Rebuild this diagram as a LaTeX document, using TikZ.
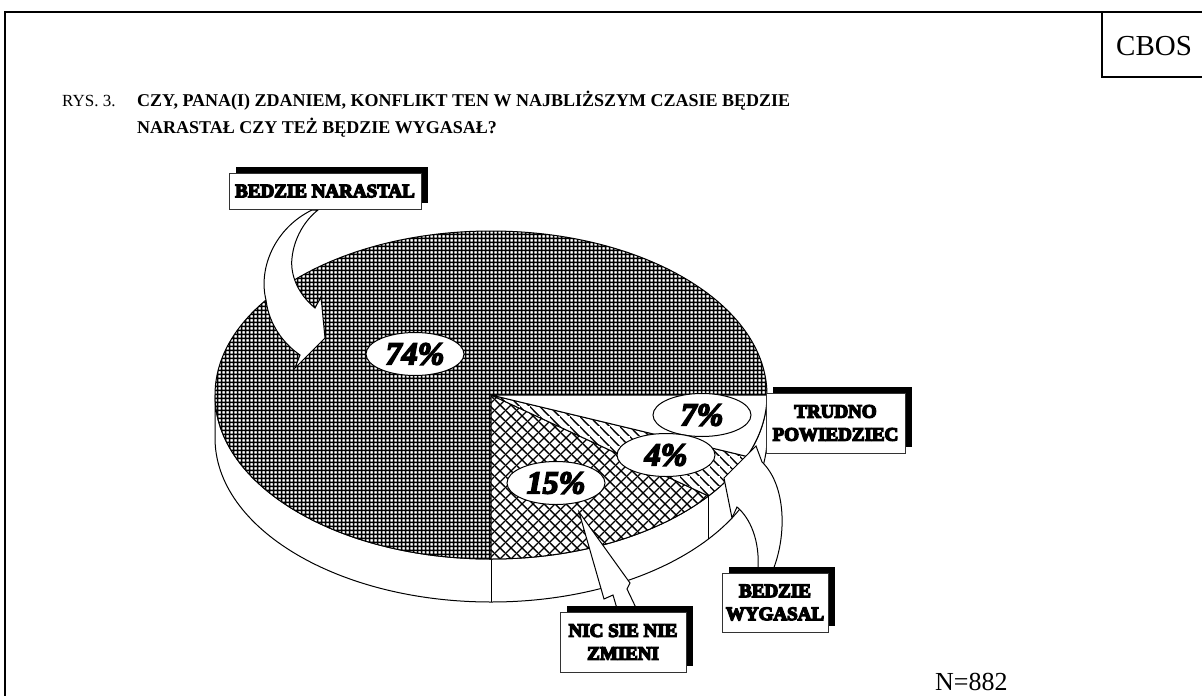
\documentclass[tikz,border=0pt]{standalone}
\usepackage{fontspec}
\setmainfont{Liberation Serif}
\newfontfamily\heavyfont{Liberation Serif Bold}[FakeBold=7]
\newfontfamily\heavyit{Liberation Serif Bold Italic}[FakeBold=5]
\usetikzlibrary{patterns.meta,shapes.geometric,shadows}
\tikzdeclarepattern{
  name=finegrid, type=uncolored,
  bounding box={(0pt,0pt) and (4pt,4pt)}, tile size={(4pt,4pt)},
  code={\draw[line width=1.7pt] (-1pt,2pt) -- (5pt,2pt) (2pt,-1pt) -- (2pt,5pt);}
}
\tikzdeclarepattern{
  name=xhatch, type=uncolored,
  bounding box={(0pt,0pt) and (11pt,11pt)}, tile size={(11pt,11pt)},
  code={\draw[line width=1.5pt] (-1pt,-1pt) -- (12pt,12pt) (-1pt,12pt) -- (12pt,-1pt);}
}
\tikzdeclarepattern{
  name=dhatch, type=uncolored,
  bounding box={(0pt,0pt) and (10pt,10pt)}, tile size={(10pt,10pt)},
  code={\draw[line width=1.4pt] (-1pt,11pt) -- (11pt,-1pt);}
}
\newcommand\pcfont{\heavyit\fontsize{32}{32}\selectfont}
\newcommand\lbfont{\heavyfont\fontsize{19}{23}\selectfont}
\tikzset{
  pieline/.style={draw=black, line width=1pt, line join=round},
  arrowshape/.style={fill=white, draw=black, line width=1pt, line join=miter},
  pct/.style={ellipse, draw=black, fill=white, line width=1pt, minimum width=98pt,
    minimum height=43pt, inner sep=0pt, font=\pcfont},
  lbox/.style={draw=black!80, fill=white, line width=0.7pt, inner sep=0pt, align=center,
    font=\lbfont, drop shadow={shadow xshift=7pt, shadow yshift=6pt, fill=black, opacity=1}},
  frameline/.style={line width=2pt},
  plain/.style={inner sep=0pt, anchor=base west},
}
\begin{document}
\begin{tikzpicture}[x=1pt,y=-1pt]
\useasboundingbox (0,0) rectangle (1202,696);
% frame
\draw[frameline] (5,696) -- (5,12) -- (1202,12);
\draw[frameline] (1102,12) -- (1102,77) -- (1202,77);
\node[plain, font=\fontsize{29}{29}\selectfont] (cbos) at (1116,55) {CBOS};
% title
\node[plain, font=\fontsize{17}{17}\selectfont] (rys) at (62,106) {RYS. 3.};
\node[plain, font=\bfseries\fontsize{18}{18}\selectfont] (t1) at (137,106) {CZY, PANA(I) ZDANIEM, KONFLIKT TEN W NAJBLIŻSZYM CZASIE BĘDZIE};
\node[plain, font=\bfseries\fontsize{18}{18}\selectfont] (t2) at (137,133) {NARASTAŁ CZY TEŻ BĘDZIE WYGASAŁ?};
% pie
\coordinate (C) at (491,395);
\draw[pieline, fill=white] (767,395) -- (767,438) arc[start angle=0, end angle=180, x radius=276, y radius=164]
  -- (215,395) arc[start angle=180, end angle=0, x radius=276, y radius=164] -- cycle;
\draw[pieline] (C) ++(90:276 and 164) -- ++(0,43);
\draw[pieline] (C) ++(38:276 and 164) -- ++(0,43);
\draw[pieline] (C) ++(22:276 and 164) -- ++(0,43);
\draw[pieline, preaction={fill=white}, pattern=finegrid, pattern color=black]
  (C) -- ++(90:276 and 164) arc[start angle=90, end angle=360, x radius=276, y radius=164] -- cycle;
\draw[pieline, preaction={fill=white}, pattern=xhatch, pattern color=black]
  (C) -- ++(38:276 and 164) arc[start angle=38, end angle=90, x radius=276, y radius=164] -- cycle;
\draw[pieline, preaction={fill=white}, pattern=dhatch, pattern color=black]
  (C) -- ++(22:276 and 164) arc[start angle=22, end angle=38, x radius=276, y radius=164] -- cycle;
\draw[pieline, fill=white]
  (C) -- ++(0:276 and 164) arc[start angle=0, end angle=22, x radius=276, y radius=164] -- cycle;
% arrows
\draw[arrowshape] (312,210) .. controls (275,228) and (258,268) .. (266,300)
  .. controls (269,325) and (284,344) .. (300,355) -- (295,368) -- (325,338) -- (321,297) -- (315,308)
  .. controls (298,294) and (290,275) .. (292,258) .. controls (294,238) and (305,220) .. (318,210) -- cycle;
\draw[arrowshape] (579,512) -- (604,599) -- (613,595) -- (618,612) -- (638,612) -- (627,589) -- (630,583) -- cycle;
\draw[arrowshape] (724,478) -- (732,518) -- (737,507) .. controls (750,518) and (760,540) .. (758,570)
  -- (773,570) .. controls (787,535) and (786,485) .. (762,462) -- (756,446) -- cycle;
% percentages
\node[pct] (p74) at (415,354) {74\%};
\node[pct] (p15) at (556,483) {15\%};
\node[pct] (p7) at (702,415) {7\%};
\node[pct] (p4) at (666,455) {4\%};
% label boxes
\node[lbox, minimum width=192pt, minimum height=36pt] (bn) at (325,191) {BEDZIE NARASTAL};
\node[lbox, minimum width=139pt, minimum height=60pt] (tp) at (835.5,423) {TRUDNO\\POWIEDZIEC};
\node[lbox, minimum width=126pt, minimum height=60pt] (nic) at (623,642) {NIC SIE NIE\\ZMIENI};
\node[lbox, minimum width=106pt, minimum height=59pt] (bw) at (775,602.5) {BEDZIE\\WYGASAL};
% N
\node[plain, font=\fontsize{26}{26}\selectfont] (n) at (935,690) {N=882};
\end{tikzpicture}
\end{document}
